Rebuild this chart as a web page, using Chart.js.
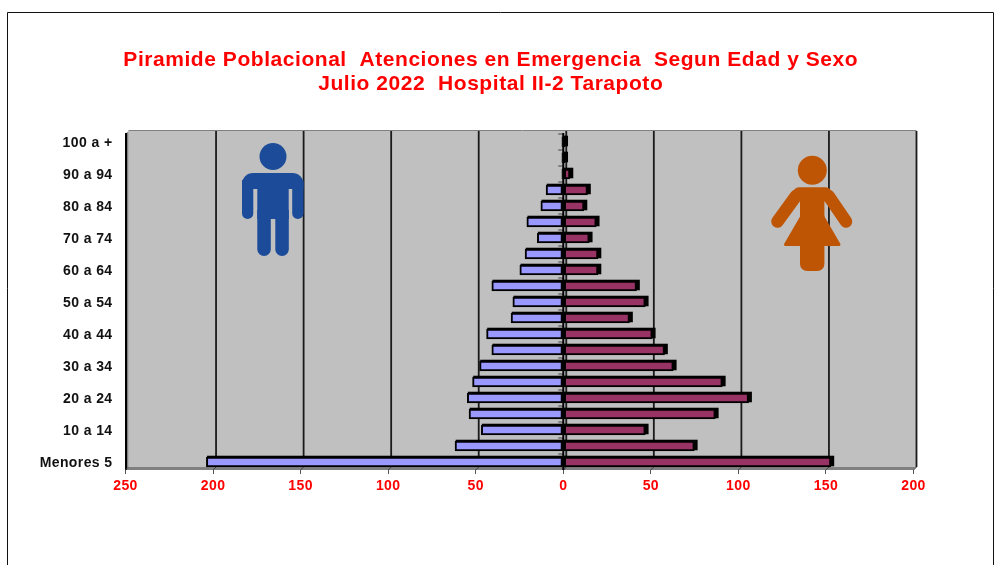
<!DOCTYPE html>
<html><head><meta charset="utf-8">
<style>html,body{margin:0;padding:0;background:#fff;overflow:hidden}#w{width:999px;height:565px;position:relative}</style>
<script src="https://cdn.jsdelivr.net/npm/chart.js@4/dist/chart.umd.min.js"></script>
</head><body><div id="w"><canvas id="c" width="999" height="565"></canvas></div>
<script>
const categories = ["100 a +","95 a 99","90 a 94","85 a 89","80 a 84","75 a 79","70 a 74","65 a 69","60 a 64","55 a 59","50 a 54","45 a 49","40 a 44","35 a 39","30 a 34","25 a 29","20 a 24","15 a 19","10 a 14","5 a 9","Menores 5"];
const hombres = [1,1,1,10,13,21,15,22,25,41,29,30,44,41,48,52,55,54,47,62,204];
const mujeres = [1,1,4,14,12,19,15,20,20,42,47,38,51,58,63,91,106,87,47,75,153];
const xTicks = [-250,-200,-150,-100,-50,0,50,100,150,200];
const titleLines = ["Piramide Poblacional  Atenciones en Emergencia  Segun Edad y Sexo","Julio 2022  Hospital II-2 Tarapoto"];

const DEPTH = 3;
const decor = {
  id:'decor',
  afterLayout(ch){
    const tb=ch.titleBlock;
    if(tb._wrapped) return;
    tb._wrapped=true;
    tb.left+=34; tb.right+=34;
    const d=tb.draw;
    tb.draw=function(a){ ch.ctx.letterSpacing='0.55px'; d.call(this,a); ch.ctx.letterSpacing='0.4px'; };
    const ys=ch.scales.y, dl=ys.drawLabels;
    ys.drawLabels=function(a){ ch.ctx.save(); ch.ctx.translate(0,1); dl.call(this,a); ch.ctx.restore(); };
  },
  beforeDraw(ch){
    const c=ch.ctx; c.letterSpacing='0.4px'; c.save();
    c.fillStyle='#fff'; c.fillRect(0,0,ch.width,ch.height);
    c.strokeStyle='#111'; c.lineWidth=1;
    c.beginPath(); c.moveTo(7.5,565); c.lineTo(7.5,12.5); c.lineTo(993.5,12.5); c.lineTo(993.5,565); c.stroke();
    c.restore();
  },
  beforeDatasetsDraw(ch){
    const c=ch.ctx,a=ch.chartArea,x=ch.scales.x,y=ch.scales.y; c.save();
    c.fillStyle='#C0C0C0'; c.fillRect(a.left+DEPTH,a.top-DEPTH,a.width,a.height);
    c.fillStyle='#808080';
    c.beginPath(); c.moveTo(a.left,a.top); c.lineTo(a.left+DEPTH,a.top-DEPTH); c.lineTo(a.left+DEPTH,a.bottom-DEPTH); c.lineTo(a.left,a.bottom); c.closePath(); c.fill();
    c.beginPath(); c.moveTo(a.left,a.bottom); c.lineTo(a.left+DEPTH,a.bottom-DEPTH); c.lineTo(a.right+DEPTH,a.bottom-DEPTH); c.lineTo(a.right,a.bottom); c.closePath(); c.fill();
    c.strokeStyle='#808080'; c.lineWidth=1;
    c.beginPath(); c.moveTo(a.left+DEPTH,a.top-DEPTH-.5); c.lineTo(a.right+DEPTH,a.top-DEPTH-.5); c.stroke();
    c.strokeStyle='#1a1a1a'; c.lineWidth=1.8;
    xTicks.forEach(v=>{ if(v===-250) return; const p=x.getPixelForValue(v)+DEPTH;
      c.beginPath(); c.moveTo(p,a.top-DEPTH); c.lineTo(p,a.bottom-DEPTH); c.stroke(); });
    c.strokeStyle='#000'; c.lineWidth=2;
    c.beginPath(); c.moveTo(a.left+.5,a.top-1); c.lineTo(a.left+.5,a.bottom); c.stroke();
    c.strokeStyle='#444'; c.lineWidth=1;
    xTicks.forEach(v=>{ const p=x.getPixelForValue(v);
      c.beginPath(); c.moveTo(p,a.bottom); c.lineTo(p+DEPTH,a.bottom-DEPTH); c.stroke(); });
    const z=x.getPixelForValue(0);
    categories.forEach((_,i)=>{ const p=y.getPixelForValue(i)-(y.getPixelForValue(1)-y.getPixelForValue(0))/2;
      c.beginPath(); c.moveTo(z-5,p); c.lineTo(z,p); c.stroke(); });
    c.strokeStyle='#000'; c.lineWidth=2;
    c.beginPath(); c.moveTo(z,a.top-1); c.lineTo(z,a.bottom); c.stroke();
    c.restore();
    drawMan(c); drawWoman(c);
  },
  beforeDatasetDraw(ch,args){
    const c=ch.ctx; c.save(); c.fillStyle='#000';
    args.meta.data.forEach(el=>{
      const p=el.getProps(['x','y','base','height'],true);
      const l=Math.min(p.x,p.base), r=Math.max(p.x,p.base);
      c.fillRect(l+1,p.y-p.height/2-1,r-l+2,p.height);
    });
    c.restore();
  }
};
function drawMan(c){
  c.save(); c.fillStyle='#1C4B9A';
  c.beginPath(); c.arc(273,156.5,13.5,0,Math.PI*2); c.fill();
  c.beginPath(); c.roundRect(242,173,61.5,16,[11,11,0,0]); c.fill();
  c.beginPath(); c.roundRect(242,180,11.3,39,[0,0,5.6,5.6]); c.fill();
  c.beginPath(); c.roundRect(292.2,180,11.3,39,[0,0,5.6,5.6]); c.fill();
  c.fillRect(257.3,180,31.4,39);
  c.beginPath(); c.roundRect(257.3,210,13.5,46,[0,0,6.7,6.7]); c.fill();
  c.beginPath(); c.roundRect(275.3,210,13.5,46,[0,0,6.7,6.7]); c.fill();
  c.restore();
}
function drawWoman(c){
  c.save(); c.fillStyle='#BE5504'; c.strokeStyle='#BE5504'; c.lineCap='round'; c.lineJoin='round';
  c.beginPath(); c.arc(812.3,170.3,14.5,0,Math.PI*2); c.fill();
  c.lineWidth=12.5;
  c.beginPath(); c.moveTo(796,196); c.lineTo(777.5,221.5); c.stroke();
  c.beginPath(); c.moveTo(828.6,196); c.lineTo(846,221.5); c.stroke();
  c.beginPath(); c.roundRect(793,187.3,38.6,14,[6,6,0,0]); c.fill();
  c.fillRect(800,190,24.4,40);
  c.lineWidth=3;
  c.beginPath(); c.moveTo(801.5,217); c.lineTo(823,217); c.lineTo(839,244.5); c.lineTo(785.5,244.5); c.closePath(); c.fill(); c.stroke();
  c.beginPath(); c.roundRect(800,240,24.4,31,[0,0,7,7]); c.fill();
  c.restore();
}
const FONT='"Liberation Sans",Arial,sans-serif';
new Chart(document.getElementById('c'),{
  type:'bar',
  plugins:[decor],
  data:{labels:categories,datasets:[
    {label:'Hombres',data:hombres.map(v=>-v),backgroundColor:'#9999FF',borderColor:'#000',borderWidth:2,borderSkipped:false,stack:'p'},
    {label:'Mujeres',data:mujeres,backgroundColor:'#993366',borderColor:'#000',borderWidth:2,borderSkipped:false,stack:'p'}
  ]},
  options:{
    indexAxis:'y',responsive:false,animation:false,
    layout:{padding:{left:0,right:85.5,top:0,bottom:60}},
    datasets:{bar:{categoryPercentage:1,barPercentage:0.66}},
    plugins:{
      legend:{display:false},tooltip:{enabled:false},
      title:{display:true,text:titleLines,color:'#FF0000',font:{family:FONT,size:21,weight:'bold',lineHeight:24/21},padding:{top:48,bottom:38}}
    },
    scales:{
      x:{type:'linear',min:-250,max:200,
        afterBuildTicks(s){s.ticks=xTicks.map(v=>({value:v}));},
        afterFit(s){s.height=35;},
        grid:{drawOnChartArea:false,drawTicks:true,tickLength:4,color:'#555',lineWidth:1},border:{display:false},
        ticks:{color:'#FF0000',padding:4,maxRotation:0,font:{family:FONT,size:14,weight:'bold'},callback:v=>Math.abs(v)}},
      y:{type:'category',
        afterFit(s){s.width=125.5;},
        grid:{display:false},border:{display:false},
        ticks:{autoSkip:false,color:'#111',padding:5,font:{family:FONT,size:14,weight:'bold'},
          callback(v,i){return (categories.length-1-i)%2===0?categories[i]:'';}}}
    }
  }
});
</script></body></html>
